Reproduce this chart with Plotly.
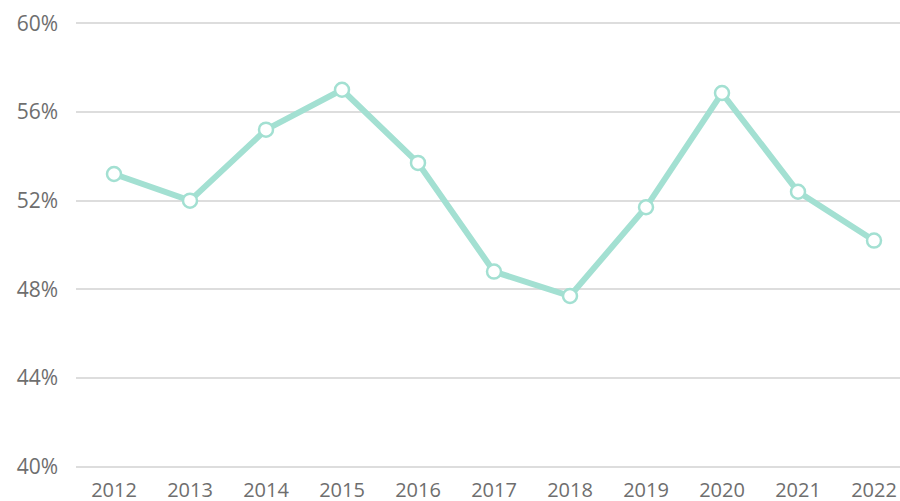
import plotly.graph_objects as go

years = ["2012", "2013", "2014", "2015", "2016", "2017", "2018", "2019", "2020", "2021", "2022"]
values = [53.2, 52.0, 55.2, 57.0, 53.7, 48.8, 47.7, 51.7, 56.85, 52.4, 50.2]
y_ticks = [40, 44, 48, 52, 56, 60]
y_tick_labels = ["40%", "44%", "48%", "52%", "56%", "60%"]

LINE = "#a3e0d2"
fig = go.Figure(go.Scatter(
    x=list(range(len(years))), y=values, mode="lines+markers",
    line=dict(color=LINE, width=6),
    marker=dict(size=14, color="white", line=dict(color=LINE, width=2.5)),
    cliponaxis=False, hoverinfo="skip",
))
fig.update_layout(
    width=900, height=501,
    margin=dict(l=76, r=0, t=1, b=12),
    plot_bgcolor="white", paper_bgcolor="white",
    showlegend=False,
    font=dict(family="Open Sans", size=20, color="#6e6e6e"),
)
fig.update_xaxes(
    range=[-0.5, 10.342], tickvals=list(range(len(years))), ticktext=years,
    showgrid=False, zeroline=False, showline=False, ticks="",
    automargin=False, anchor="free", position=1 / 22, ticklabelstandoff=9,
)
fig.update_yaxes(
    range=[39.0, 61.0], tickvals=y_ticks, ticktext=y_tick_labels,
    showgrid=True, gridcolor="#dddddd", gridwidth=2, zeroline=False,
    showline=False, ticks="", ticklabelstandoff=17, automargin=False,
    tickfont=dict(size=21),
)
fig.write_html(
    "out.html",
    config={"displayModeBar": False},
    post_script="document.body.style.margin='0';document.body.style.overflow='hidden';",
)
